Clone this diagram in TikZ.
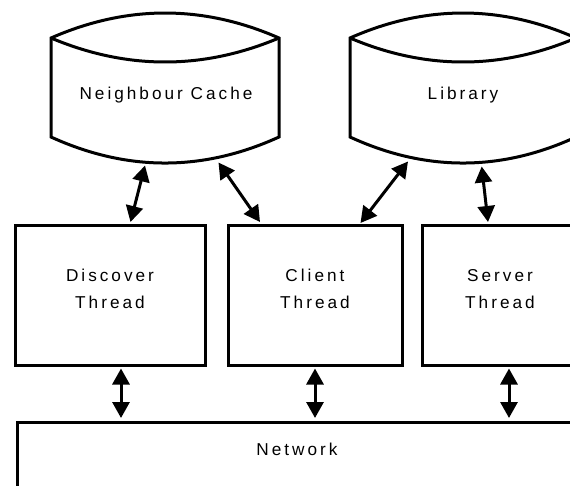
\documentclass[tikz,border=0pt]{standalone}
\usepackage{fontspec}
\setmainfont{Liberation Sans}[LetterSpace=17.5]
\usetikzlibrary{arrows.meta}
\begin{document}
\begin{tikzpicture}[x=1pt,y=-1pt,line width=3pt,
  box/.style={draw, rectangle, inner sep=0pt, line width=3pt},
  lbl/.style={font=\fontsize{17.2}{27}\selectfont, inner sep=0pt, align=center},
  biarrow/.style={line width=3pt, {Triangle[length=16pt,width=17pt]}-{Triangle[length=16pt,width=17pt]}},
  store/.style={line width=3pt, line join=miter}]
\clip (0,0) rectangle (570,486);
% Neighbour Cache store
\draw[store] (51,38) .. controls (127,4.7) and (203,4.7) .. (279,38) -- (279,137)
  .. controls (203,171.7) and (127,171.7) .. (51,137) -- cycle;
\draw[store] (51,38) .. controls (127,70) and (203,70) .. (279,38);
\node[lbl, anchor=base] (nct) at (166,100) {Neighbour Cache};
% Library store
\draw[store] (350,38) .. controls (425.3,4.7) and (500.7,4.7) .. (576,38) -- (576,137)
  .. controls (500.7,171.7) and (425.3,171.7) .. (350,137) -- cycle;
\draw[store] (350,38) .. controls (425.3,70) and (500.7,70) .. (576,38);
\node[lbl, anchor=base] (lib) at (463,100) {Library};
% thread boxes
\node[box, minimum width=189.5pt, minimum height=139pt] (disc) at (110.25,295.5) {};
\node[box, minimum width=174pt, minimum height=139pt] (cli) at (315,295.5) {};
\node[box, minimum width=157pt, minimum height=139pt] (srv) at (500.5,295.5) {};
\node[lbl] (disct) at (110,289.3) {Discover\\Thread};
\node[lbl] (clit) at (315,289.3) {Client\\Thread};
\node[lbl] (srvt) at (500,289.3) {Server\\Thread};
% network
\node[box, minimum width=566pt, minimum height=90pt, anchor=north west] (net) at (15.5,420.5) {};
\node[lbl, anchor=base] (nett) at (297,455) {Network};
% arrow end points
\coordinate (a1s) at (145,165.5);   \coordinate (a1e) at (130.5,222);
\coordinate (a2s) at (218.5,162.5); \coordinate (a2e) at (260,222);
\coordinate (a3s) at (408,161.5);   \coordinate (a3e) at (360.5,223);
\coordinate (a4s) at (481.7,166.5); \coordinate (a4e) at (488,222);
\coordinate (a5s) at (121,368.5);   \coordinate (a5e) at (121,418);
\coordinate (a6s) at (315,368.5);   \coordinate (a6e) at (315,418);
\coordinate (a7s) at (509,368.5);   \coordinate (a7e) at (509,418);
\draw[biarrow] (a1s) -- (a1e);
\draw[biarrow] (a2s) -- (a2e);
\draw[biarrow] (a3s) -- (a3e);
\draw[biarrow] (a4s) -- (a4e);
\draw[biarrow] (a5s) -- (a5e);
\draw[biarrow] (a6s) -- (a6e);
\draw[biarrow] (a7s) -- (a7e);
\end{tikzpicture}
\end{document}
